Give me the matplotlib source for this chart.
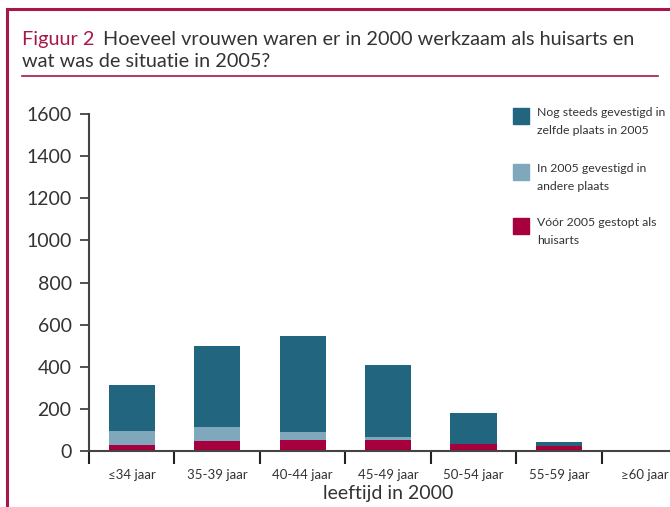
import matplotlib
matplotlib.use("Agg")
import matplotlib.pyplot as plt
from matplotlib.patches import Rectangle
from matplotlib.lines import Line2D
import numpy as np

plt.rcParams['font.family'] = ['Lato', 'DejaVu Sans']

# data
categories = ['≤34 jaar', '35-39 jaar', '40-44 jaar', '45-49 jaar', '50-54 jaar', '55-59 jaar', '≥60 jaar']
gestopt = [27, 46, 51, 51, 32, 22, 0]          # Vóór 2005 gestopt als huisarts
andere_plaats = [66, 66, 38, 14, 0, 0, 0]      # In 2005 gevestigd in andere plaats
zelfde_plaats = [218, 388, 456, 342, 147, 19, 0]  # Nog steeds gevestigd in zelfde plaats
yticks = [0, 200, 400, 600, 800, 1000, 1200, 1400, 1600]

labels = ['Nog steeds gevestigd in\nzelfde plaats in 2005',
          'In 2005 gevestigd in\nandere plaats',
          'Vóór 2005 gestopt als\nhuisarts']

c_dark = '#22657F'
c_light = '#80A8BC'
c_red = '#A6003F'
crimson = '#A8174A'
txt = '#333333'

W, H = 670, 507
fig = plt.figure(figsize=(6.7, 5.07), dpi=100)

# frame lines (top + left) and title separator
fig.add_artist(Line2D([7 / W, 1], [1 - 9 / H, 1 - 9 / H], color=crimson, lw=2.2))
fig.add_artist(Line2D([7 / W, 7 / W], [0, 1 - 9 / H], color=crimson, lw=2.2))
fig.add_artist(Line2D([22 / W, 658 / W], [1 - 76 / H, 1 - 76 / H], color=crimson, lw=1.2))

# title
t1 = fig.text(22 / W, 1 - 45 / H, 'Figuur 2', color=crimson, fontsize=14.3, va='baseline')
fig.canvas.draw()
bb = t1.get_window_extent()
fig.text(bb.x1 / W + 8 / W, 1 - 45 / H, 'Hoeveel vrouwen waren er in 2000 werkzaam als huisarts en',
         color=txt, fontsize=14.3, va='baseline')
fig.text(22 / W, 1 - 67 / H, 'wat was de situatie in 2005?', color=txt, fontsize=14.3, va='baseline')

ax = fig.add_axes([89 / W, 1 - 451 / H, (W - 89) / W, (451 - 114) / H])
x = np.arange(len(categories))
w = 0.54
b1 = np.array(gestopt)
b2 = b1 + np.array(andere_plaats)
ax.bar(x, gestopt, w, color=c_red, zorder=2)
ax.bar(x, andere_plaats, w, bottom=b1, color=c_light, zorder=2)
ax.bar(x, zelfde_plaats, w, bottom=b2, color=c_dark, zorder=2)

for s in ['top', 'right']:
    ax.spines[s].set_visible(False)
for s in ['left', 'bottom']:
    ax.spines[s].set_color('#444444')
    ax.spines[s].set_linewidth(1.5)
    ax.spines[s].set_zorder(3)

ax.set_yticks(yticks)
ax.set_yticklabels([str(v) for v in yticks], fontsize=14, color=txt)
ax.tick_params(axis='y', direction='out', length=6.5, width=1.3, color='#444444', pad=6)

ax.set_xticks(np.arange(-0.5, 6.6, 1.0))
ax.set_xticklabels([])
ax.tick_params(axis='x', which='major', direction='out', length=9, width=1.5, color='#222222')
ax.set_xticks(x, minor=True)
ax.set_xticklabels(categories, minor=True, fontsize=9.5, color=txt)
ax.tick_params(axis='x', which='minor', length=0, pad=13)

# limits after the ticks, otherwise set_xticks widens them
ax.set_xlim(-0.5, 6.3)
ax.set_ylim(0, 1600)

fig.text(388 / W, 1 - 494 / H, 'leeftijd in 2000', color=txt, fontsize=14, ha='center', va='center')

# legend
sq_tops = [108, 164, 218]
for col, lab, top in zip([c_dark, c_light, c_red], labels, sq_tops):
    fig.add_artist(Rectangle((513 / W, 1 - (top + 16) / H), 16 / W, 16 / H,
                             transform=fig.transFigure, color=col))
    fig.text(537 / W, 1 - (top - 1) / H, lab, color=txt, fontsize=8.8, va='top', linespacing=1.75)

fig.savefig('out.png', dpi=100)
